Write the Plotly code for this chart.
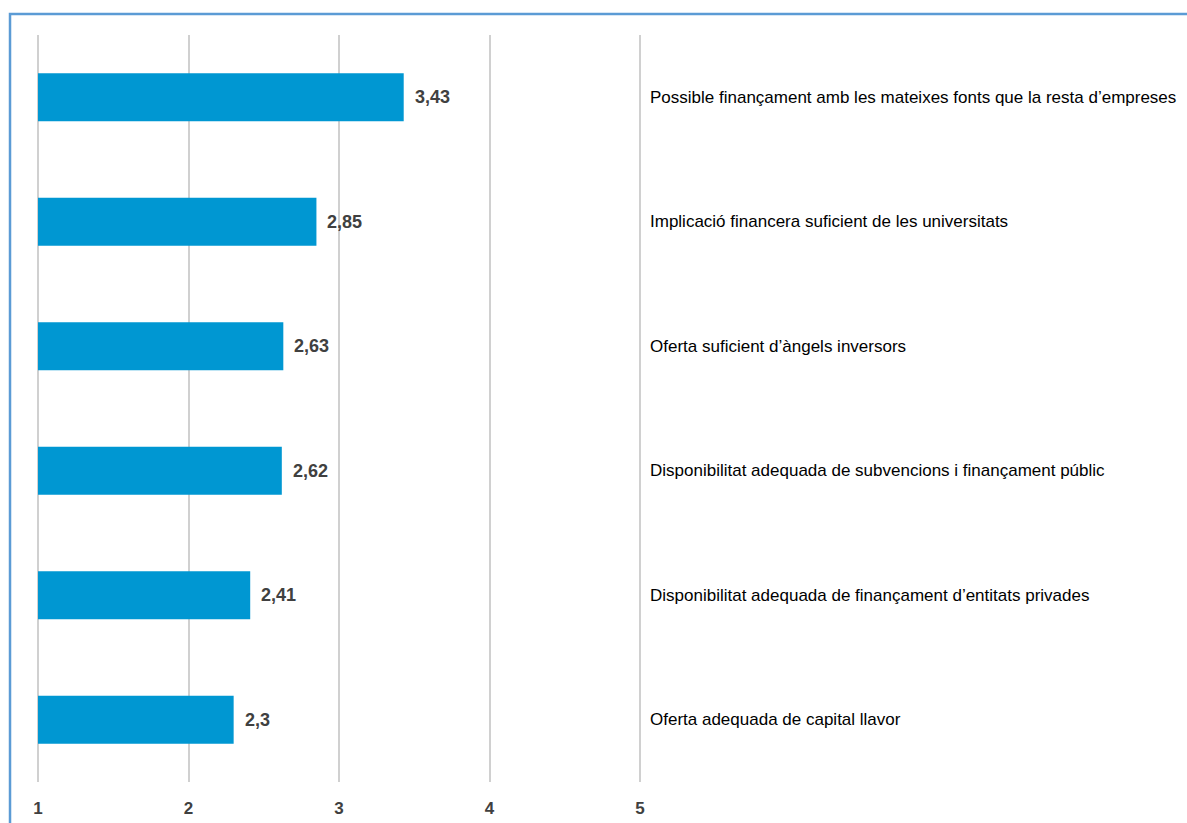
import plotly.graph_objects as go

# Survey items (top to bottom) and their mean scores on a 1-5 scale
categories = [
    "Possible finançament amb les mateixes fonts que la resta d’empreses",
    "Implicació financera suficient de les universitats",
    "Oferta suficient d’àngels inversors",
    "Disponibilitat adequada de subvencions i finançament públic",
    "Disponibilitat adequada de finançament d’entitats privades",
    "Oferta adequada de capital llavor",
]
scores = [3.43, 2.85, 2.63, 2.62, 2.41, 2.3]
tick_values = [1, 2, 3, 4, 5]
tick_labels = ["1", "2", "3", "4", "5"]

BAR_COLOR = "#0097D2"
BASE = 1
FONT = "Liberation Sans, Arial"

fig = go.Figure()
fig.add_trace(go.Bar(
    y=categories,
    x=[s - BASE for s in scores],
    base=BASE,
    orientation="h",
    marker=dict(color=BAR_COLOR, line=dict(width=0)),
    hoverinfo="skip",
))

annotations = []
for cat, s in zip(categories, scores):
    # value label just right of the bar end
    annotations.append(dict(
        x=s, y=cat, xref="x", yref="y",
        text="<b>" + f"{s:g}".replace(".", ",") + "</b>",
        showarrow=False, xanchor="left", xshift=9,
        font=dict(family=FONT, size=18, color="#404040"),
    ))
    # item label to the right of the scale
    annotations.append(dict(
        x=5, y=cat, xref="x", yref="y",
        text=cat,
        showarrow=False, xanchor="left", xshift=8,
        font=dict(family=FONT, size=17, color="#000000"),
    ))

fig.update_layout(
    width=1187, height=823,
    margin=dict(l=35, r=544, t=35, b=41),
    paper_bgcolor="white", plot_bgcolor="white",
    showlegend=False,
    bargap=0.615,
    annotations=annotations,
    xaxis=dict(
        range=[0.98, 5.02],
        automargin=False,
        tickvals=tick_values, ticktext=tick_labels,
        showgrid=True, gridcolor="#D0D0D0", gridwidth=2,
        zeroline=False, showline=False, ticks="",
        ticklabelstandoff=14,
        tickfont=dict(family=FONT, size=17, color="#404040", weight="bold"),
    ),
    yaxis=dict(
        automargin=False,
        categoryorder="array", categoryarray=categories[::-1],
        showticklabels=False, showgrid=False, zeroline=False, showline=False,
    ),
    shapes=[dict(
        type="rect", xref="paper", yref="paper",
        x0=-0.0411, x1=2.0, y0=-0.2, y1=1.0281,
        line=dict(color="#5B9BD5", width=2.5), fillcolor="rgba(0,0,0,0)",
        layer="below",
    )],
)

fig.write_html("out.html")
